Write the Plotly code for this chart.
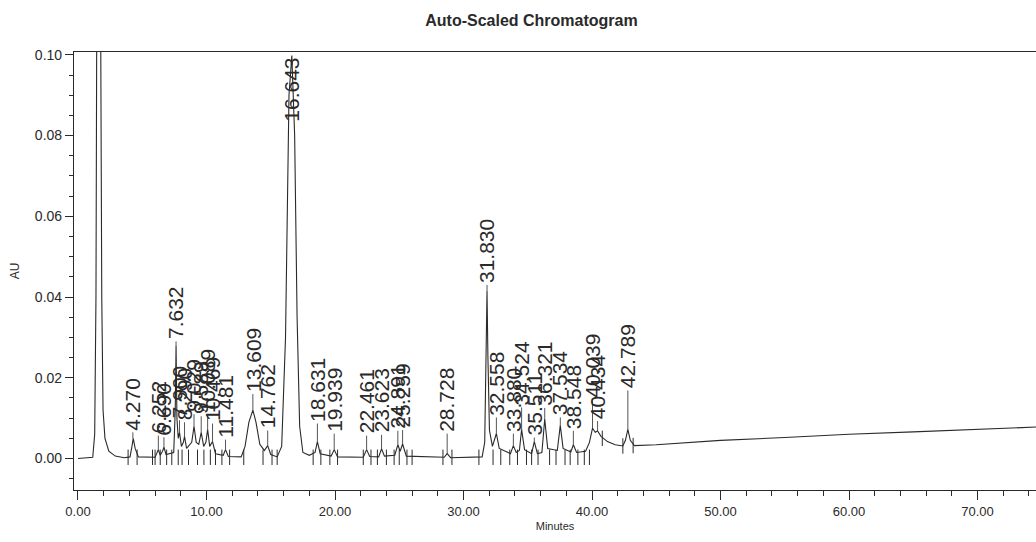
import plotly.graph_objects as go

# ---- chromatogram trace (minutes, AU) ----
time_min = [0.0, 1.15, 1.30, 1.40, 1.48, 1.62, 1.75, 1.85, 1.95, 2.10, 2.40, 2.90, 3.60,
            4.05, 4.20, 4.30, 4.45, 4.70, 6.00, 6.15, 6.25, 6.40, 6.58, 6.69, 6.85,
            7.45, 7.57, 7.632, 7.70, 7.80, 7.90, 8.05, 8.20, 8.29, 8.45, 8.85, 9.03,
            9.20, 9.40, 9.59, 9.78, 9.95, 10.09, 10.25, 10.47, 10.70, 11.30, 11.48,
            11.70, 12.70, 13.00, 13.30, 13.61, 13.85, 14.15, 14.50, 14.76, 15.00,
            15.50, 15.85, 16.15, 16.42, 16.64, 16.86, 17.05, 17.25, 17.50, 18.00,
            18.45, 18.63, 18.85, 19.70, 19.94, 20.20, 22.20, 22.46, 22.70, 23.40,
            23.62, 23.85, 24.65, 24.89, 25.07, 25.26, 25.55, 28.50, 28.73, 29.00,
            31.45, 31.65, 31.76, 31.83, 31.90, 32.02, 32.25, 32.56, 32.78, 33.65,
            33.88, 34.10, 34.35, 34.52, 34.75, 35.30, 35.51, 35.75, 36.10, 36.32,
            36.55, 37.30, 37.53, 37.75, 38.35, 38.55, 38.80, 39.50, 39.80, 40.04,
            40.25, 40.43, 40.70, 41.20, 41.80, 42.40, 42.60, 42.79, 42.98, 43.30,
            45.0, 50.0, 55.0, 60.0, 65.0, 70.0, 74.6]
absorbance_au = [0.0, 0.0003, 0.006, 0.04, 0.13, 0.16, 0.12, 0.04, 0.012, 0.005, 0.0018,
                 0.0006, 0.0002, 0.0004, 0.003, 0.005, 0.0025, 0.0004, 0.0003, 0.0015,
                 0.0022, 0.0008, 0.0018, 0.0028, 0.001, 0.0015, 0.012, 0.028, 0.010,
                 0.005, 0.0065, 0.003, 0.004, 0.0055, 0.0025, 0.004, 0.008, 0.004,
                 0.0035, 0.0065, 0.003, 0.004, 0.0072, 0.003, 0.0042, 0.0012, 0.0008,
                 0.0022, 0.0005, 0.0004, 0.003, 0.009, 0.012, 0.009, 0.0035, 0.002,
                 0.0032, 0.001, 0.0004, 0.003, 0.03, 0.09, 0.0998, 0.08, 0.035, 0.008,
                 0.0015, 0.0008, 0.0015, 0.0042, 0.0012, 0.0006, 0.0022, 0.0004, 0.0003,
                 0.0022, 0.0005, 0.0004, 0.0024, 0.0006, 0.0008, 0.0034, 0.0018, 0.0036,
                 0.0006, 0.0003, 0.0012, 0.0002, 0.0004, 0.004, 0.025, 0.0415, 0.025,
                 0.007, 0.003, 0.0062, 0.0025, 0.0012, 0.0032, 0.0015, 0.002, 0.0072,
                 0.0022, 0.0012, 0.0042, 0.0012, 0.0015, 0.0098, 0.0025, 0.002, 0.0082,
                 0.0025, 0.0016, 0.0034, 0.0015, 0.0018, 0.004, 0.0075, 0.0065, 0.0068,
                 0.0055, 0.0042, 0.0034, 0.0031, 0.0045, 0.0072, 0.0045, 0.0032, 0.0034,
                 0.0045, 0.0052, 0.006, 0.0066, 0.0072, 0.0078]

# ---- peak labels (retention time text, time, apex height) ----
peak_labels = ["4.270", "6.252", "6.690", "7.632", "7.900", "8.290", "9.029", "9.589",
               "10.089", "10.469", "11.481", "13.609", "14.762", "16.643", "18.631",
               "19.939", "22.461", "23.623", "24.891", "25.259", "28.728", "31.830",
               "32.558", "33.880", "34.524", "35.511", "36.321", "37.534", "38.548",
               "40.039", "40.434", "42.789"]
peak_times = [4.270, 6.252, 6.690, 7.632, 7.900, 8.290, 9.029, 9.589, 10.089, 10.469,
              11.481, 13.609, 14.762, 16.643, 18.631, 19.939, 22.461, 23.623, 24.891,
              25.259, 28.728, 31.830, 32.558, 33.880, 34.524, 35.511, 36.321, 37.534,
              38.548, 40.039, 40.434, 42.789]
peak_heights = [0.005, 0.0022, 0.0028, 0.028, 0.0065, 0.0055, 0.008, 0.0065, 0.0072,
                0.0042, 0.0022, 0.012, 0.0032, 0.0998, 0.0042, 0.0022, 0.0022, 0.0024,
                0.0034, 0.0036, 0.0012, 0.0415, 0.0062, 0.0032, 0.0072, 0.0042, 0.0098,
                0.0082, 0.0034, 0.0075, 0.0068, 0.0072]
# leader-line length (px) between apex and label, as printed
label_gap_px = [6, 14, 10, 4, 12, 14, 12, 16, 14, 18, 10, 16, 15, 0, 18, 16, 14, 14,
                14, 14, 20, 6, 16, 12, 22, 4, 11, 8, 14, 28, 10, 39]

# ---- integration start/end marks on the baseline ----
mark_times = [3.9, 4.6, 5.8, 6.0, 6.4, 6.9, 7.3, 7.8, 8.1, 8.6, 9.3, 9.8, 10.3, 10.7,
              11.2, 11.8, 12.9, 14.4, 15.1, 15.5, 18.3, 18.9, 19.6, 20.2, 22.2, 22.8,
              23.3, 24.0, 24.6, 25.0, 25.6, 26.0, 28.4, 29.1, 31.2, 32.3, 32.9, 33.6,
              34.2, 34.9, 35.3, 35.8, 36.7, 37.2, 37.9, 38.3, 38.9, 39.4, 39.8, 40.8,
              42.4, 43.2]
mark_levels = [0.0003] * 49 + [0.005, 0.0031, 0.0032]

x_ticks = [0, 10, 20, 30, 40, 50, 60, 70]
x_tick_text = ["0.00", "10.00", "20.00", "30.00", "40.00", "50.00", "60.00", "70.00"]
y_ticks = [0.0, 0.02, 0.04, 0.06, 0.08, 0.10]
y_tick_text = ["0.00", "0.02", "0.04", "0.06", "0.08", "0.10"]

INK = "#2a2a2a"
FONT = "Liberation Sans, Arial, sans-serif"

fig = go.Figure()
fig.add_trace(go.Scatter(x=time_min, y=absorbance_au, mode="lines",
                         line=dict(color=INK, width=1.1), hoverinfo="skip",
                         showlegend=False))
fig.add_trace(go.Scatter(x=mark_times, y=mark_levels, mode="markers",
                         marker=dict(symbol="line-ns", size=11,
                                     line=dict(color=INK, width=1)),
                         hoverinfo="skip", showlegend=False))

for txt, t, h, gap in zip(peak_labels, peak_times, peak_heights, label_gap_px):
    if h > 0.09:
        fig.add_annotation(x=t, y=0.1, text=txt, textangle=-90, showarrow=False,
                           xanchor="center", yanchor="top", yshift=-1,
                           font=dict(family=FONT, size=21, color=INK))
    else:
        if gap > 3:
            fig.add_shape(type="line", xref="x", yref="y", ysizemode="pixel",
                          yanchor=h, x0=t, x1=t, y0=0, y1=gap,
                          line=dict(color=INK, width=0.8))
        fig.add_annotation(x=t, y=h, text=txt, textangle=-90, showarrow=False,
                           xanchor="center", yanchor="bottom", yshift=gap,
                           font=dict(family=FONT, size=21, color=INK))

fig.update_layout(
    width=1036, height=542,
    margin=dict(l=74, r=0, t=52, b=52),
    paper_bgcolor="white", plot_bgcolor="white",
    title=dict(text="<b>Auto-Scaled Chromatogram</b>", x=0.513, xanchor="center",
               y=0.962, yanchor="middle",
               font=dict(family=FONT, size=16, color=INK)),
    font=dict(family=FONT, color=INK),
)
fig.update_xaxes(
    range=[-0.31, 74.55], showgrid=False, zeroline=False,
    showline=True, linecolor=INK, linewidth=1.2, mirror=True,
    tickmode="array", tickvals=x_ticks, ticktext=x_tick_text,
    ticks="outside", ticklen=9, tickcolor=INK, tickwidth=1,
    tickfont=dict(family=FONT, size=13, color=INK),
    minor=dict(dtick=2, ticks="outside", ticklen=5, tickcolor=INK, tickwidth=1),
    title=dict(text="Minutes", font=dict(family=FONT, size=11, color=INK), standoff=4),
)
fig.update_yaxes(
    range=[-0.0078, 0.1007], showgrid=False, zeroline=False,
    showline=True, linecolor=INK, linewidth=1.2,
    tickmode="array", tickvals=y_ticks, ticktext=y_tick_text,
    ticks="outside", ticklen=8, tickcolor=INK, tickwidth=1,
    tickfont=dict(family=FONT, size=14, color=INK),
    minor=dict(dtick=0.005, ticks="outside", ticklen=4, tickcolor=INK, tickwidth=1),
    title=dict(text="AU", font=dict(family=FONT, size=12, color=INK), standoff=12),
)

fig.write_html("out.html")
